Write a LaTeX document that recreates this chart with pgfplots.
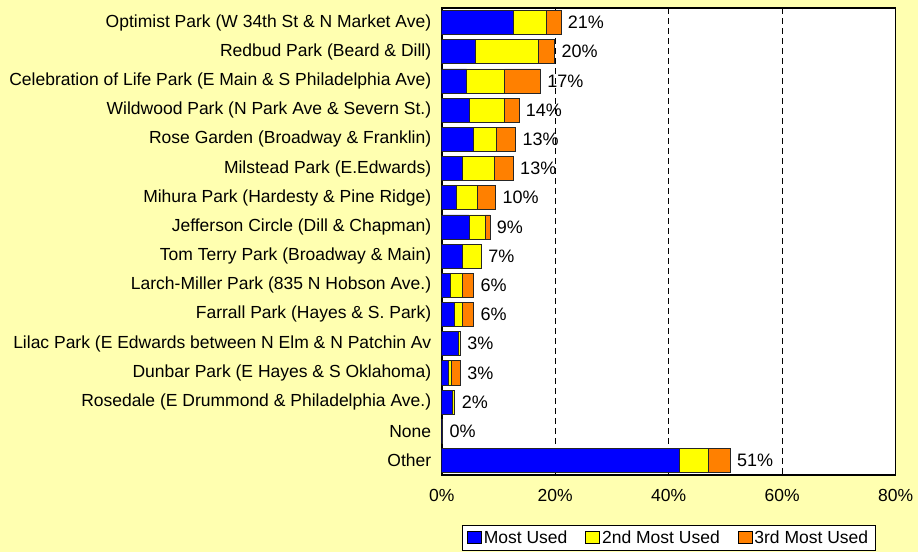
\documentclass[border=0pt]{standalone}
\usepackage{fontspec}
\setmainfont{Liberation Sans}
\usepackage{pgfplots}
\usepackage{pgfplotstable}
\pgfplotsset{compat=1.18}
\definecolor{bgc}{RGB}{255,255,176}
\definecolor{cblue}{RGB}{0,0,255}
\definecolor{cyel}{RGB}{255,255,0}
\definecolor{corg}{RGB}{255,128,0}
\pgfplotstableread{
idx b y o t lbl
0 12.6 5.9 2.5 21.0 21\%
1 5.9 11.1 2.9 19.9 20\%
2 4.4 6.7 6.3 17.4 17\%
3 4.8 6.3 2.5 13.6 14\%
4 5.6 4.1 3.3 13.0 13\%
5 3.7 5.6 3.3 12.6 13\%
6 2.6 3.7 3.2 9.5 10\%
7 4.8 2.9 0.8 8.5 9\%
8 3.7 3.3 0 7.0 7\%
9 1.5 2.2 1.9 5.6 6\%
10 2.2 1.5 1.9 5.6 6\%
11 2.9 0.4 0 3.3 3\%
12 1.1 0.6 1.6 3.3 3\%
13 1.8 0.5 0 2.3 2\%
14 0.15 0 0 0.15 0\%
15 41.9 5.1 3.8 50.8 51\%
}\datatable
\newcommand{\fs}{\fontsize{17.5}{20}\selectfont}
\begin{document}
\begin{tikzpicture}
\useasboundingbox (0,0) rectangle (918pt,552pt);
\fill[bgc] (0,0) rectangle (918pt,552pt);
\begin{axis}[
  at={(441.7pt,77pt)}, anchor=south west,
  scale only axis, width=454pt, height=467pt,
  axis background/.style={fill=white},
  axis line style={line width=1.6pt, black},
  xbar stacked, bar width=24pt,
  xmin=0, xmax=80, ymin=-0.5, ymax=15.5, y dir=reverse,
  xtick={0,20,40,60,80},
  xticklabels={0\%,20\%,40\%,60\%,80\%},
  ytick={0,...,15},
  yticklabels={
    Optimist Park (W 34th St \& N Market Ave),
    Redbud Park (Beard \& Dill),
    Celebration of Life Park (E Main \& S Philadelphia Ave),
    Wildwood Park (N Park Ave \& Severn St.),
    Rose Garden (Broadway \& Franklin),
    Milstead Park (E.Edwards),
    Mihura Park (Hardesty \& Pine Ridge),
    Jefferson Circle (Dill \& Chapman),
    Tom Terry Park (Broadway \& Main),
    Larch-Miller Park (835 N Hobson Ave.),
    Farrall Park (Hayes \& S. Park),
    Lilac Park (E Edwards between N Elm \& N Patchin Av,
    Dunbar Park (E Hayes \& S Oklahoma),
    Rosedale (E Drummond \& Philadelphia Ave.),
    None,
    Other},
  major tick length=0pt,
  ymajorgrids=false, xmajorgrids=true,
  major grid style={black, line width=0.6pt, dash pattern=on 6pt off 4pt},
  tick label style={font=\fs},
  xticklabel style={yshift=-11pt},
  yticklabel style={xshift=-7pt},
  legend style={at={(0.5,0)}, yshift=-49.5pt, anchor=north, legend columns=3,
    font=\fs, draw=black, line width=0.8pt, fill=white,
    inner xsep=5pt, inner ysep=3.5pt,
    /tikz/every even column/.append style={column sep=16pt}},
  legend cell align=left,
  legend image code/.code={\draw[#1, draw=black, line width=0.6pt] (0pt,-5.5pt) rectangle (14pt,6pt);},
  every axis plot/.append style={draw=black!85, line width=0.7pt},
]
\addplot[fill=cblue] table[x=b, y=idx] {\datatable};
\addlegendentry{Most Used}
\addplot[fill=cyel] table[x=y, y=idx] {\datatable};
\addlegendentry{2nd Most Used}
\addplot[fill=corg] table[x=o, y=idx] {\datatable};
\addlegendentry{3rd Most Used}
\end{axis}
\begin{axis}[
  at={(441.7pt,77pt)}, anchor=south west,
  scale only axis, width=454pt, height=467pt,
  xmin=0, xmax=80, ymin=-0.5, ymax=15.5, y dir=reverse,
  hide axis, clip=false,
]
\addplot[draw=none, mark=none, nodes near coords, point meta=explicit symbolic,
  every node near coord/.append style={anchor=west, font=\fontsize{18}{20}\selectfont, black, xshift=3.5pt}]
  table[x=t, y=idx, meta=lbl] {\datatable};
\end{axis}
\end{tikzpicture}
\end{document}
